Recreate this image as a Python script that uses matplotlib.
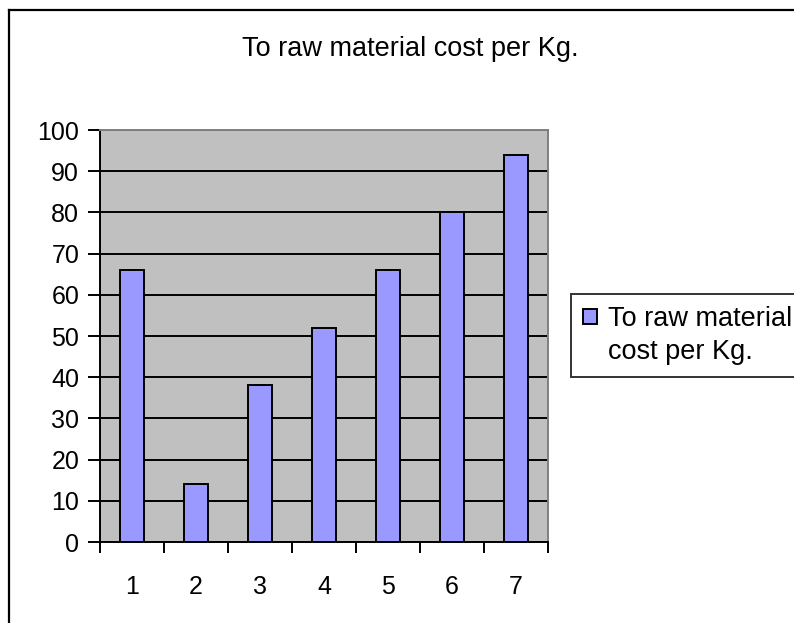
import matplotlib.pyplot as plt
from matplotlib.lines import Line2D
from matplotlib.patches import Patch

plt.rcParams['font.family'] = ['Liberation Sans', 'DejaVu Sans']

categories = [1, 2, 3, 4, 5, 6, 7]
cost_per_kg = [66, 14, 38, 52, 66, 80, 94]
series_name = "To raw material cost per Kg."
legend_lines = ["To raw material", "cost per Kg."]
y_ticks = list(range(0, 101, 10))

W, H = 794, 623
fig = plt.figure(figsize=(W / 100, H / 100), dpi=100)

# outer chart border (only left/top edges fall inside the image)
fig.add_artist(Line2D([9 / W, 9 / W], [0, 1 - 10 / H], color="black", lw=1.6, transform=fig.transFigure))
fig.add_artist(Line2D([9 / W, 1], [1 - 10 / H, 1 - 10 / H], color="black", lw=1.6, transform=fig.transFigure))

ax = fig.add_axes([100 / W, (H - 542) / H, 448 / W, 412 / H])
ax.set_facecolor("#C0C0C0")

bars = ax.bar(categories, cost_per_kg, width=0.39, color="#9999FF", edgecolor="black",
              linewidth=1.4, zorder=3)

ax.set_xlim(0.5, 7.5)
ax.set_ylim(0, 100)
ax.set_yticks(y_ticks)
ax.yaxis.grid(True, color="black", linewidth=1.4, zorder=1)
ax.set_axisbelow(True)

ax.set_xticks(categories)
ax.set_xticklabels([str(c) for c in categories])
ax.set_xticks([c - 0.5 for c in categories] + [7.5], minor=True)
ax.tick_params(axis="x", which="major", length=0, pad=24, labelsize=18)
ax.tick_params(axis="x", which="minor", length=8, width=1.4, direction="out")
ax.tick_params(axis="y", length=9, width=1.4, direction="out", pad=6, labelsize=18)

for side in ("left", "bottom"):
    ax.spines[side].set_color("black")
    ax.spines[side].set_linewidth(1.4)
for side in ("top", "right"):
    ax.spines[side].set_color("#808080")
    ax.spines[side].set_linewidth(1.4)

fig.text(410 / W, 1 - 49 / H, series_name, ha="center", va="center", fontsize=19.5)

# legend label wraps onto a second line; the blank handle keeps the swatch on line one
blank = Patch(facecolor="none", edgecolor="none")
leg = fig.legend([bars, blank], legend_lines, loc="upper left",
                 bbox_to_anchor=(571 / W, 1 - 294 / H),
                 fontsize=19.5, handlelength=0.5, handleheight=0.5, handletextpad=0.4,
                 labelspacing=0.25, borderpad=0.45, borderaxespad=0,
                 fancybox=False, frameon=True)
leg.get_frame().set_edgecolor("black")
leg.get_frame().set_linewidth(1.4)

fig.savefig("out.png", dpi=100)
